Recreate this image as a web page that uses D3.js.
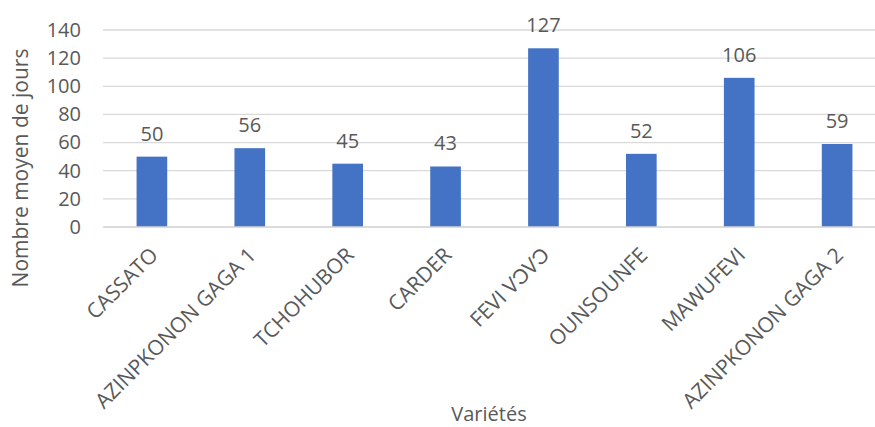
<!DOCTYPE html>
<html><head><meta charset="utf-8">
<script src="https://cdn.jsdelivr.net/npm/d3@7"></script>
<style>
body{margin:0;background:#fff;}
text{font-family:"Open Sans", sans-serif;fill:#595959;}
</style></head>
<body><svg id="c" width="875" height="427"></svg>
<script>
const categories = ["CASSATO","AZINPKONON GAGA 1","TCHOHUBOR","CARDER","FEVI VƆVƆ","OUNSOUNFE","MAWUFEVI","AZINPKONON GAGA 2"];
const values = [50,56,45,43,127,52,106,59];
const yTicks = [0,20,40,60,80,100,120,140];

(function(){
const svg = d3.select("#c");
const pL = 103, pR = 886, pT = 30, pB = 227;
const x = d3.scaleBand().domain(categories).range([pL,pR]).paddingInner(0.687).paddingOuter(0.343);
const y = d3.scaleLinear().domain([0,140]).range([pB,pT]);

svg.append("g").selectAll("line").data(yTicks).join("line")
  .attr("x1",pL).attr("x2",pR).attr("y1",d=>y(d)).attr("y2",d=>y(d))
  .attr("stroke","#d9d9d9").attr("stroke-width",1.3);

const ya = svg.append("g").attr("transform",`translate(${pL},0)`)
  .call(d3.axisLeft(y).tickValues(yTicks).tickSize(0).tickPadding(22));
ya.select(".domain").remove();
ya.selectAll("text").style("font-size","20px").attr("fill","#595959").attr("font-family","Open Sans");

svg.append("g").selectAll("rect").data(values).join("rect")
  .attr("x",(d,i)=>x(categories[i])).attr("width",x.bandwidth())
  .attr("y",d=>y(d)).attr("height",d=>y(0)-y(d)).attr("fill","#4472c4");

svg.append("g").selectAll("text").data(values).join("text")
  .attr("x",(d,i)=>x(categories[i])+x.bandwidth()/2).attr("y",d=>y(d)-16)
  .attr("text-anchor","middle").style("font-size","20px").text(d=>d);

svg.append("line").attr("x1",pL).attr("x2",pR).attr("y1",y(0)).attr("y2",y(0))
  .attr("stroke","#d9d9d9").attr("stroke-width",1.3);

svg.append("g").selectAll("text").data(categories).join("text")
  .attr("transform",d=>`translate(${x(d)+x.bandwidth()/2-3},${246}) rotate(-45)`)
  .attr("text-anchor","end").attr("dy","0.7em").style("font-size","21px").text(d=>d);

svg.append("text").attr("transform","translate(28,168) rotate(-90)")
  .attr("text-anchor","middle").style("font-size","21px").text("Nombre moyen de jours");
svg.append("text").attr("x",489).attr("y",421)
  .attr("text-anchor","middle").style("font-size","20px").text("Variétés");
})();
</script></body></html>
